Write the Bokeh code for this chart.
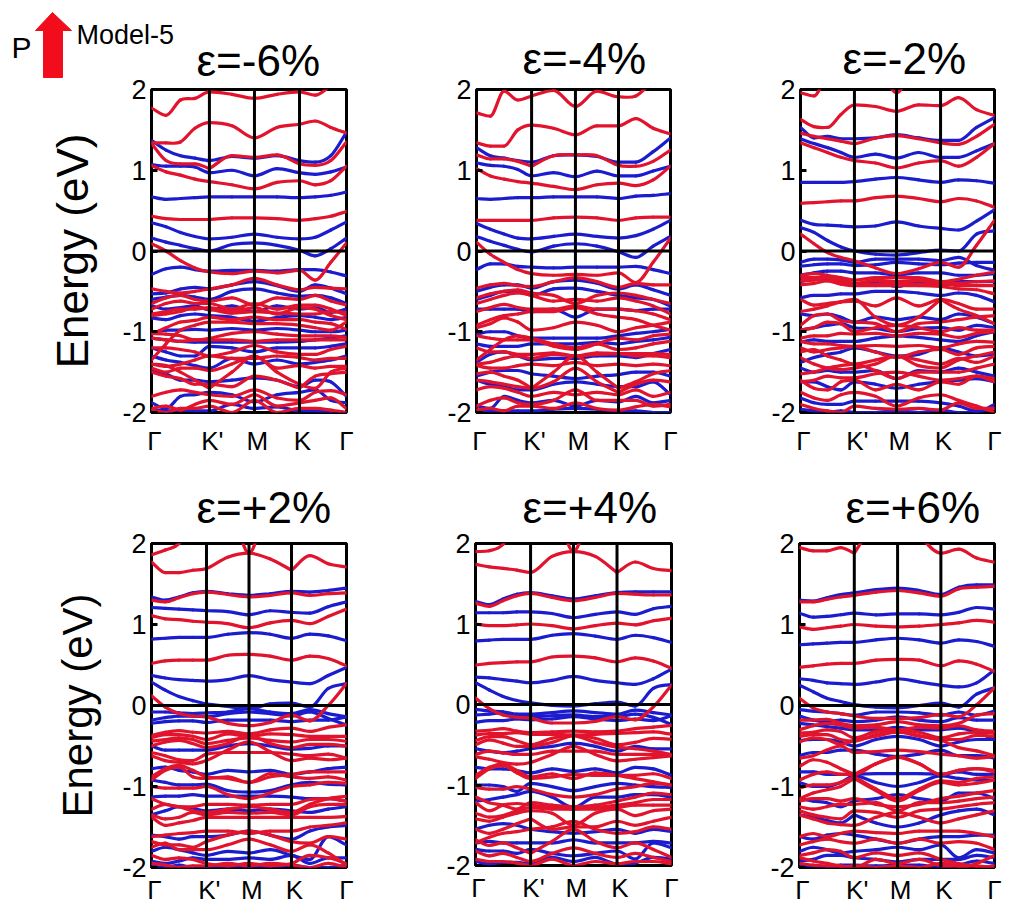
from bokeh.embed import file_html
from bokeh.resources import INLINE
from bokeh.plotting import figure
from bokeh.layouts import column, row
from bokeh.models import Range1d, FixedTicker, Span, ColumnDataSource
from bokeh.core.properties import value

FONT = "Liberation Sans"
RED = "#e2142d"
BLUE = "#1c1ccf"
ARROW_RED = "#f10d1c"
TICK_LABELS = ["Γ", "K'", "M", "K", "Γ"]
Y_TICKS = [-2, -1, 0, 1, 2]
TITLES = ["ε=-6%", "ε=-4%", "ε=-2%", "ε=+2%", "ε=+4%", "ε=+6%"]

# k-path position of Γ, K', M, K, Γ in each panel
K1 = [0, 0.297, 0.528, 0.759, 1]
K2 = [0, 0.284, 0.510, 0.732, 1]
K3 = [0, 0.278, 0.495, 0.722, 1]
K4 = [0, 0.282, 0.500, 0.718, 1]
K5 = [0, 0.281, 0.500, 0.722, 1]
K6 = [0, 0.281, 0.503, 0.725, 1]

# Each band: energy (eV) at 12 k-points: Γ, 3 between, K', 1 between, M, 1 between, K, 2 between, Γ
P1_RED = [
 [1.77,1.68,1.87,1.89,1.97,1.94,1.89,1.94,1.97,1.93,2.05,2.2],
 [1.34,1.34,1.35,1.52,1.59,1.55,1.40,1.53,1.57,1.61,1.53,1.46],
 [1.33,1.12,1.08,1.08,1.02,1.18,1.16,1.19,1.08,1.06,1.12,1.35],
 [1.06,.98,.94,.89,.86,.82,.77,.85,.87,.82,.87,1.05],
 [.43,.40,.39,.39,.39,.41,.41,.40,.38,.40,.43,.49],
 [.09,0,-.12,-.21,-.26,-.28,-.25,-.27,-.24,-.36,-.14,.10],
 [-.47,-.50,-.52,-.50,-.47,-.42,-.34,-.42,-.48,-.45,-.46,-.47],
 [-.65,-.58,-.55,-.60,-.62,-.58,-.67,-.58,-.60,-.55,-.62,-.67],
 [-.72,-.65,-.62,-.65,-.65,-.72,-.65,-.72,-.67,-.67,-.72,-.80],
 [-.80,-.78,-.75,-.70,-.72,-.77,-.75,-.77,-.78,-.78,-.75,-.76],
 [-.78,-.75,-.72,-.72,-.70,-.75,-.70,-.78,-.70,-.72,-.80,-.85],
 [-1.03,-.95,-.88,-.86,-.82,-.85,-.82,-.85,-.85,-.88,-.90,-.97],
 [-1.02,-1.03,-1.05,-1.10,-1.08,-1.02,-1.00,-1.03,-1.05,-1.05,-1.05,-1.07],
 [-1.08,-1.10,-1.12,-1.10,-1.10,-1.10,-1.12,-1.10,-1.10,-1.10,-1.10,-1.10],
 [-1.35,-1.15,-.98,-.92,-.88,-.88,-.90,-.90,-.92,-.95,-.98,-.88],
 [-1.20,-1.20,-1.22,-1.25,-1.30,-1.25,-1.17,-1.25,-1.28,-1.28,-1.22,-1.18],
 [-1.40,-1.43,-1.40,-1.35,-1.30,-1.33,-1.33,-1.30,-1.32,-1.35,-1.33,-1.33],
 [-1.45,-1.50,-1.45,-1.45,-1.48,-1.40,-1.30,-1.45,-1.42,-1.45,-1.43,-1.43],
 [-1.40,-1.42,-1.50,-1.60,-1.70,-1.50,-1.30,-1.50,-1.65,-1.70,-1.50,-1.45],
 [-1.50,-1.55,-1.58,-1.65,-1.65,-1.68,-1.55,-1.60,-1.70,-1.55,-1.52,-1.50],
 [-1.80,-1.75,-1.72,-1.75,-1.78,-1.80,-1.72,-1.82,-1.85,-1.75,-1.73,-1.78],
 [-1.95,-1.92,-1.97,-1.90,-1.85,-1.90,-1.78,-1.92,-1.88,-1.85,-1.82,-1.95],
 [-1.97,-2.00,-1.95,-1.95,-1.92,-2.00,-1.85,-2.00,-1.95,-1.95,-1.97,-2.00],
]
P1_BLUE = [
 [1.37,1.25,1.18,1.15,1.12,1.17,1.15,1.18,1.12,1.10,1.18,1.47],
 [1.07,1.05,1.05,1.04,.97,1.00,.93,1.02,.97,.95,.98,1.04],
 [.67,.64,.65,.66,.67,.67,.67,.67,.66,.67,.69,.73],
 [.35,.30,.23,.18,.15,.17,.21,.17,.15,.17,.26,.36],
 [.16,.11,.07,.03,0,.08,.10,.07,.01,-.06,.03,.16],
 [-.29,-.22,-.20,-.23,-.25,-.24,-.24,-.25,-.23,-.23,-.26,-.31],
 [-.53,-.52,-.47,-.45,-.47,-.42,-.38,-.43,-.50,-.42,-.46,-.53],
 [-.60,-.57,-.55,-.57,-.60,-.50,-.47,-.52,-.56,-.55,-.58,-.65],
 [-.68,-.72,-.70,-.68,-.73,-.68,-.75,-.68,-.72,-.70,-.76,-.72],
 [-.83,-.85,-.80,-.78,-.80,-.82,-.87,-.82,-.80,-.82,-.85,-.82],
 [-1.02,-.98,-.98,-.97,-.98,-.96,-.98,-.96,-.98,-1.00,-1.00,-.98],
 [-1.08,-1.10,-1.12,-1.13,-1.13,-1.13,-1.13,-1.13,-1.12,-1.10,-1.08,-1.05],
 [-1.20,-1.25,-1.30,-1.30,-1.18,-1.20,-1.25,-1.20,-1.20,-1.20,-1.18,-1.15],
 [-1.30,-1.35,-1.38,-1.42,-1.45,-1.33,-1.40,-1.35,-1.40,-1.38,-1.35,-1.30],
 [-1.48,-1.52,-1.60,-1.60,-1.62,-1.60,-1.57,-1.60,-1.68,-1.60,-1.62,-1.80],
 [-1.88,-1.95,-1.80,-1.78,-1.75,-1.78,-1.87,-1.78,-1.75,-1.72,-1.85,-1.88],
 [-1.97,-1.98,-1.97,-1.98,-1.98,-1.90,-1.95,-1.93,-1.98,-1.98,-2.00,-2.00],
]

P2_RED = [
 [1.71,1.67,1.98,1.87,1.92,1.99,1.79,1.98,1.91,1.92,2.1,2.2],
 [1.34,1.30,1.30,1.50,1.56,1.52,1.44,1.55,1.55,1.64,1.52,1.45],
 [1.19,1.14,1.14,1.11,1.05,1.18,1.19,1.18,1.06,1.05,1.11,1.25],
 [1.02,.93,.89,.86,.84,.80,.76,.82,.84,.81,.88,1.05],
 [.38,.38,.38,.38,.38,.41,.42,.41,.38,.41,.42,.42],
 [.11,-.04,-.14,-.23,-.28,-.30,-.29,-.30,-.27,-.39,-.14,.16],
 [-.46,-.42,-.40,-.43,-.44,-.38,-.33,-.38,-.45,-.40,-.42,-.42],
 [-.58,-.53,-.50,-.48,-.52,-.55,-.65,-.55,-.52,-.55,-.60,-.65],
 [-.65,-.60,-.55,-.52,-.55,-.62,-.60,-.62,-.58,-.62,-.68,-.78],
 [-.75,-.70,-.66,-.70,-.72,-.72,-.68,-.72,-.72,-.74,-.78,-.85],
 [-.92,-.85,-.80,-.78,-.75,-.75,-.70,-.78,-.82,-.85,-.92,-.98],
 [-.95,-.90,-.83,-.88,-.98,-.95,-.88,-.92,-1.00,-.95,-.92,-.88],
 [-1.05,-1.08,-1.10,-1.10,-1.10,-1.18,-1.22,-1.15,-1.08,-1.10,-1.05,-1.03],
 [-1.35,-1.22,-1.10,-1.05,-1.08,-1.15,-1.20,-1.15,-1.22,-1.20,-1.15,-1.12],
 [-1.20,-1.25,-1.25,-1.28,-1.28,-1.26,-1.30,-1.26,-1.27,-1.27,-1.27,-1.28],
 [-1.40,-1.38,-1.33,-1.30,-1.33,-1.28,-1.30,-1.28,-1.27,-1.30,-1.30,-1.32],
 [-1.42,-1.45,-1.45,-1.42,-1.40,-1.42,-1.38,-1.42,-1.40,-1.42,-1.40,-1.42],
 [-1.52,-1.50,-1.55,-1.60,-1.70,-1.50,-1.30,-1.50,-1.70,-1.62,-1.52,-1.48],
 [-1.60,-1.62,-1.65,-1.68,-1.70,-1.62,-1.45,-1.62,-1.75,-1.65,-1.60,-1.62],
 [-1.72,-1.68,-1.70,-1.75,-1.80,-1.75,-1.78,-1.75,-1.78,-1.72,-1.80,-1.75],
 [-1.92,-1.85,-1.82,-1.88,-1.90,-1.85,-1.72,-1.85,-1.85,-1.85,-1.92,-1.90],
 [-1.97,-1.95,-1.98,-1.92,-1.92,-1.95,-1.88,-1.95,-1.97,-1.93,-1.90,-1.93],
]
P2_BLUE = [
 [1.28,1.18,1.15,1.12,1.10,1.18,1.19,1.17,1.10,1.10,1.23,1.40],
 [1.09,1.06,1.05,1.01,.93,.97,.92,.99,.93,.93,.99,1.05],
 [.65,.64,.65,.66,.66,.67,.67,.67,.65,.68,.69,.71],
 [.34,.27,.21,.16,.15,.18,.21,.18,.16,.19,.27,.38],
 [.18,.12,.07,.02,-.01,.06,.09,.06,-.01,-.08,.06,.18],
 [-.23,-.16,-.16,-.19,-.20,-.21,-.20,-.20,-.20,-.19,-.23,-.28],
 [-.50,-.45,-.42,-.42,-.46,-.38,-.36,-.40,-.47,-.42,-.48,-.55],
 [-.60,-.55,-.50,-.50,-.55,-.47,-.46,-.50,-.55,-.58,-.60,-.68],
 [-.72,-.72,-.72,-.72,-.75,-.72,-.82,-.72,-.72,-.74,-.72,-.72],
 [-1.03,-1.00,-1.00,-1.05,-1.08,-1.08,-1.08,-1.08,-1.05,-1.02,-1.00,-.97],
 [-1.15,-1.18,-1.18,-1.18,-1.15,-1.15,-1.15,-1.13,-1.15,-1.12,-1.10,-1.07],
 [-1.38,-1.28,-1.25,-1.30,-1.35,-1.33,-1.33,-1.30,-1.30,-1.32,-1.27,-1.22],
 [-1.55,-1.50,-1.48,-1.48,-1.52,-1.55,-1.58,-1.55,-1.53,-1.50,-1.50,-1.55],
 [-1.60,-1.65,-1.68,-1.72,-1.72,-1.65,-1.62,-1.65,-1.68,-1.68,-1.62,-1.78],
 [-1.92,-1.95,-1.80,-1.85,-1.88,-1.85,-1.92,-1.85,-1.87,-1.80,-1.88,-1.85],
 [-1.97,-1.98,-1.98,-1.98,-1.98,-1.96,-1.95,-1.96,-1.98,-1.98,-2.00,-2.00],
]

P3_RED = [
 [1.96,1.92,2.2,2.3,2.3,2.3,1.96,2.3,2.3,2.3,2.3,2.3],
 [1.63,1.54,1.53,1.69,1.81,1.79,1.73,1.81,1.80,1.90,1.75,1.68],
 [1.46,1.42,1.39,1.36,1.33,1.40,1.43,1.39,1.34,1.32,1.42,1.57],
 [1.34,1.28,1.22,1.16,1.12,1.09,1.03,1.09,1.12,1.05,1.16,1.33],
 [.59,.60,.61,.62,.62,.66,.68,.65,.61,.65,.62,.54],
 [.21,.09,-.02,-.08,-.12,-.21,-.28,-.22,-.14,-.20,.07,.38],
 [-.30,-.28,-.30,-.33,-.36,-.33,-.33,-.33,-.38,-.35,-.30,-.26],
 [-.33,-.33,-.33,-.38,-.40,-.36,-.38,-.36,-.41,-.40,-.38,-.37],
 [-.37,-.36,-.33,-.36,-.40,-.41,-.40,-.41,-.40,-.43,-.43,-.43],
 [-.42,-.40,-.37,-.41,-.43,-.43,-.43,-.43,-.44,-.47,-.48,-.53],
 [-.60,-.67,-.65,-.63,-.62,-.68,-.58,-.68,-.60,-.65,-.72,-.72],
 [-.92,-.80,-.78,-.86,-.88,-.90,-1.0,-.90,-.88,-.85,-.82,-.80],
 [-.75,-.72,-.68,-.63,-.60,-.82,-.92,-.82,-.60,-.72,-.80,-.90],
 [-.98,-.95,-.88,-.90,-1.00,-.95,-.92,-.95,-1.00,-.95,-.98,-.98],
 [-1.08,-1.05,-1.05,-1.02,-1.03,-1.02,-1.05,-1.02,-1.03,-1.07,-1.02,-1.00],
 [-1.12,-1.15,-1.15,-1.17,-1.18,-1.17,-1.18,-1.17,-1.20,-1.15,-1.12,-1.13],
 [-1.20,-1.25,-1.22,-1.20,-1.18,-1.25,-1.32,-1.25,-1.22,-1.28,-1.20,-1.18],
 [-1.25,-1.22,-1.30,-1.35,-1.40,-1.35,-1.30,-1.35,-1.40,-1.33,-1.38,-1.30],
 [-1.32,-1.40,-1.45,-1.47,-1.45,-1.40,-1.30,-1.42,-1.45,-1.35,-1.30,-1.25],
 [-1.52,-1.50,-1.45,-1.42,-1.40,-1.48,-1.58,-1.50,-1.50,-1.50,-1.45,-1.40],
 [-1.62,-1.60,-1.55,-1.57,-1.57,-1.52,-1.50,-1.55,-1.60,-1.58,-1.55,-1.58],
 [-1.60,-1.70,-1.72,-1.62,-1.60,-1.72,-1.65,-1.72,-1.62,-1.65,-1.55,-1.62],
 [-1.75,-1.82,-1.85,-1.78,-1.75,-1.80,-1.92,-1.82,-1.78,-1.85,-1.92,-2.00],
 [-1.90,-1.95,-1.98,-2.00,-1.92,-1.95,-1.96,-1.95,-1.97,-1.88,-1.95,-1.95],
]
P3_BLUE = [
 [1.53,1.40,1.42,1.39,1.39,1.40,1.44,1.40,1.37,1.37,1.53,1.65],
 [1.39,1.33,1.28,1.22,1.16,1.20,1.15,1.22,1.16,1.16,1.24,1.33],
 [.85,.85,.85,.85,.86,.89,.91,.88,.85,.88,.87,.84],
 [.38,.33,.32,.31,.30,.31,.36,.31,.28,.26,.37,.51],
 [.29,.23,.13,.05,0,-.04,-.05,-.02,.01,0,.21,.25],
 [-.14,-.10,-.10,-.11,-.14,-.10,-.10,-.10,-.12,-.08,-.18,-.24],
 [-.19,-.17,-.16,-.16,-.18,-.17,-.14,-.16,-.17,-.15,-.14,-.14],
 [-.30,-.27,-.25,-.25,-.27,-.27,-.30,-.27,-.27,-.30,-.30,-.28],
 [-.38,-.35,-.35,-.34,-.42,-.38,-.44,-.38,-.43,-.38,-.38,-.38],
 [-.58,-.55,-.55,-.53,-.53,-.50,-.50,-.52,-.55,-.52,-.55,-.63],
 [-.78,-.80,-.78,-.82,-.88,-.82,-.85,-.82,-.85,-.78,-.82,-.90],
 [-.98,-.95,-.92,-.90,-.95,-.96,-1.00,-.96,-.95,-.98,-.92,-.95],
 [-1.13,-1.10,-1.12,-1.12,-1.12,-1.08,-1.05,-1.07,-1.10,-1.12,-1.05,-1.00],
 [-1.38,-1.32,-1.28,-1.25,-1.20,-1.25,-1.30,-1.28,-1.20,-1.25,-1.30,-1.28],
 [-1.45,-1.50,-1.48,-1.50,-1.50,-1.48,-1.58,-1.48,-1.50,-1.45,-1.50,-1.55],
 [-1.62,-1.62,-1.68,-1.72,-1.62,-1.65,-1.70,-1.65,-1.62,-1.60,-1.58,-1.62],
 [-1.82,-1.88,-1.90,-1.90,-1.86,-1.86,-1.86,-1.86,-1.88,-1.92,-1.98,-1.95],
 [-1.96,-1.98,-2.00,-1.98,-2.00,-2.00,-1.98,-2.00,-1.97,-2.00,-2.00,-1.90],
]

P4_RED = [
 [1.86,1.92,2.0,2.3,2.5,2.5,1.88,2.5,2.5,2.5,2.5,2.5],
 [1.77,1.64,1.64,1.67,1.69,1.83,1.88,1.81,1.67,1.85,1.75,1.71],
 [1.30,1.28,1.33,1.38,1.40,1.37,1.34,1.36,1.39,1.36,1.38,1.39],
 [1.11,1.07,1.06,1.04,1.03,1.01,.96,1.02,1.05,1.01,1.10,1.19],
 [.52,.55,.56,.56,.56,.62,.63,.61,.56,.61,.58,.49],
 [.12,-.02,-.10,-.13,-.14,-.22,-.25,-.21,-.12,-.19,0,.27],
 [-.37,-.33,-.31,-.33,-.34,-.32,-.35,-.30,-.28,-.32,-.27,-.24],
 [-.40,-.36,-.36,-.38,-.42,-.35,-.38,-.35,-.36,-.38,-.38,-.38],
 [-.44,-.42,-.40,-.42,-.47,-.43,-.40,-.43,-.45,-.42,-.42,-.44],
 [-.50,-.45,-.43,-.47,-.52,-.47,-.37,-.47,-.52,-.48,-.48,-.50],
 [-.58,-.62,-.67,-.68,-.60,-.58,-.58,-.58,-.60,-.62,-.60,-.65],
 [-.62,-.68,-.70,-.72,-.68,-.55,-.45,-.57,-.68,-.65,-.67,-.65],
 [-.88,-.78,-.74,-.80,-.88,-.90,-.95,-.88,-.85,-.82,-.82,-.82],
 [-.92,-.80,-.76,-.88,-.90,-.88,-.95,-.84,-.88,-.90,-.88,-.92],
 [-1.00,-1.02,-1.02,-1.02,-1.00,-1.10,-1.15,-1.08,-1.00,-.98,-.95,-.96],
 [-1.15,-1.22,-1.25,-1.30,-1.32,-1.28,-1.25,-1.28,-1.32,-1.22,-1.15,-1.12],
 [-1.28,-1.22,-1.25,-1.25,-1.22,-1.22,-1.23,-1.22,-1.22,-1.16,-1.15,-1.18],
 [-1.35,-1.40,-1.38,-1.32,-1.35,-1.32,-1.33,-1.32,-1.35,-1.25,-1.22,-1.22],
 [-1.38,-1.48,-1.45,-1.42,-1.38,-1.38,-1.38,-1.38,-1.38,-1.38,-1.38,-1.37],
 [-1.62,-1.60,-1.58,-1.57,-1.55,-1.55,-1.58,-1.55,-1.55,-1.50,-1.48,-1.45],
 [-1.68,-1.72,-1.72,-1.75,-1.68,-1.60,-1.55,-1.60,-1.68,-1.70,-1.62,-1.65],
 [-1.75,-1.70,-1.78,-1.78,-1.78,-1.72,-1.65,-1.72,-1.80,-1.72,-1.82,-1.97],
 [-1.85,-1.90,-1.88,-1.90,-1.95,-1.98,-1.95,-1.98,-1.95,-1.85,-1.88,-1.95],
 [-1.95,-1.97,-2.00,-1.98,-1.98,-1.95,-1.98,-1.95,-1.97,-2.00,-1.95,-2.00],
]
P4_BLUE = [
 [1.34,1.30,1.34,1.39,1.41,1.38,1.36,1.38,1.41,1.40,1.42,1.45],
 [1.21,1.20,1.19,1.18,1.17,1.16,1.12,1.17,1.15,1.14,1.22,1.28],
 [.82,.83,.84,.84,.84,.88,.90,.88,.83,.88,.86,.80],
 [.37,.34,.32,.31,.30,.32,.37,.32,.29,.27,.37,.47],
 [.29,.19,.11,.06,.02,-.01,-.04,.02,.03,-.02,.21,.27],
 [-.08,-.08,-.09,-.10,-.09,-.08,-.04,-.08,-.10,-.05,-.10,-.14],
 [-.18,-.15,-.13,-.13,-.14,-.10,-.08,-.10,-.13,-.08,-.16,-.24],
 [-.22,-.20,-.19,-.19,-.21,-.18,-.18,-.18,-.20,-.18,-.18,-.14],
 [-.50,-.55,-.55,-.55,-.55,-.50,-.47,-.50,-.54,-.53,-.50,-.50],
 [-.78,-.76,-.80,-.82,-.85,-.80,-.82,-.80,-.85,-.82,-.78,-.76],
 [-.92,-.95,-.98,-.98,-.97,-1.05,-1.07,-1.05,-.98,-.95,-.97,-.98],
 [-1.13,-1.12,-1.12,-1.10,-1.12,-1.12,-1.12,-1.12,-1.13,-1.15,-1.15,-1.18],
 [-1.35,-1.30,-1.25,-1.27,-1.30,-1.28,-1.30,-1.28,-1.30,-1.32,-1.28,-1.25],
 [-1.60,-1.62,-1.65,-1.62,-1.62,-1.60,-1.55,-1.60,-1.65,-1.55,-1.50,-1.48],
 [-1.80,-1.75,-1.78,-1.82,-1.85,-1.80,-1.82,-1.78,-1.85,-1.90,-1.62,-1.72],
 [-1.92,-1.95,-1.92,-1.88,-1.90,-1.90,-1.88,-1.90,-1.85,-1.95,-1.88,-1.88],
 [-1.98,-2.00,-1.97,-2.00,-2.00,-2.00,-2.00,-2.00,-1.97,-2.00,-2.00,-1.97],
]

P5_RED = [
 [1.90,1.91,1.99,2.3,2.5,2.5,1.90,2.5,2.5,2.5,2.5,2.5],
 [1.74,1.71,1.69,1.67,1.64,1.84,1.90,1.84,1.64,1.77,1.69,1.66],
 [1.26,1.22,1.29,1.35,1.38,1.33,1.29,1.33,1.38,1.37,1.36,1.36],
 [1.00,.98,.98,.99,1.00,.98,.94,.98,1.01,.99,1.04,1.07],
 [.49,.51,.52,.53,.53,.59,.60,.58,.53,.58,.54,.45],
 [.08,-.05,-.13,-.16,-.17,-.23,-.23,-.21,-.15,-.19,-.03,.24],
 [-.33,-.32,-.30,-.33,-.35,-.34,-.33,-.34,-.33,-.30,-.28,-.26],
 [-.38,-.36,-.36,-.35,-.37,-.37,-.38,-.37,-.36,-.35,-.34,-.37],
 [-.45,-.40,-.40,-.45,-.50,-.42,-.38,-.42,-.50,-.47,-.42,-.43],
 [-.50,-.44,-.48,-.52,-.52,-.47,-.39,-.47,-.53,-.55,-.58,-.62],
 [-.62,-.58,-.60,-.62,-.62,-.58,-.58,-.58,-.62,-.62,-.62,-.63],
 [-.65,-.68,-.72,-.74,-.72,-.62,-.52,-.62,-.70,-.68,-.66,-.64],
 [-.88,-.78,-.74,-.82,-.90,-.86,-.92,-.85,-.88,-.92,-.96,-1.00],
 [-.92,-.80,-.76,-.85,-.92,-.90,-.87,-.88,-.88,-.88,-.86,-.92],
 [-1.03,-1.05,-1.05,-1.02,-1.05,-1.12,-1.15,-1.12,-1.05,-1.02,-.98,-1.00],
 [-1.15,-1.22,-1.25,-1.30,-1.22,-1.25,-1.27,-1.25,-1.20,-1.15,-1.10,-1.12],
 [-1.22,-1.32,-1.25,-1.23,-1.25,-1.28,-1.30,-1.28,-1.25,-1.22,-1.18,-1.18],
 [-1.35,-1.40,-1.38,-1.32,-1.28,-1.30,-1.30,-1.30,-1.28,-1.25,-1.25,-1.25],
 [-1.42,-1.45,-1.40,-1.35,-1.32,-1.35,-1.50,-1.35,-1.30,-1.38,-1.32,-1.30],
 [-1.55,-1.60,-1.55,-1.48,-1.42,-1.55,-1.52,-1.52,-1.45,-1.50,-1.45,-1.40],
 [-1.72,-1.65,-1.60,-1.58,-1.55,-1.52,-1.45,-1.55,-1.60,-1.58,-1.52,-1.55],
 [-1.68,-1.75,-1.72,-1.78,-1.85,-1.70,-1.55,-1.70,-1.78,-1.72,-1.80,-1.90],
 [-1.82,-1.88,-1.85,-1.90,-1.95,-1.85,-1.78,-1.85,-1.90,-1.85,-1.90,-1.95],
 [-1.92,-1.95,-1.95,-1.97,-2.00,-1.92,-2.00,-1.95,-1.98,-1.95,-1.95,-1.98],
]
P5_BLUE = [
 [1.28,1.24,1.31,1.37,1.39,1.35,1.31,1.35,1.39,1.40,1.40,1.40],
 [1.14,1.14,1.14,1.15,1.15,1.13,1.08,1.12,1.15,1.12,1.19,1.22],
 [.79,.80,.81,.81,.81,.86,.88,.85,.81,.86,.83,.77],
 [.34,.33,.31,.29,.27,.30,.35,.30,.27,.25,.32,.44],
 [.27,.18,.10,.05,.02,-.01,-.02,.01,.03,-.02,.20,.25],
 [-.06,-.08,-.09,-.12,-.12,-.10,-.08,-.10,-.12,-.07,-.10,-.13],
 [-.13,-.12,-.10,-.15,-.15,-.14,-.13,-.15,-.15,-.12,-.16,-.25],
 [-.22,-.20,-.20,-.18,-.19,-.18,-.15,-.18,-.20,-.18,-.20,-.14],
 [-.55,-.58,-.60,-.58,-.55,-.52,-.48,-.52,-.58,-.52,-.55,-.55],
 [-.78,-.80,-.80,-.82,-.85,-.80,-.83,-.80,-.85,-.78,-.80,-.88],
 [-1.00,-1.00,-1.02,-1.08,-.98,-1.02,-1.07,-1.02,-.98,-1.00,-1.02,-1.03],
 [-1.20,-1.18,-1.15,-1.12,-1.08,-1.15,-1.28,-1.15,-1.15,-1.12,-1.12,-1.15],
 [-1.55,-1.50,-1.48,-1.50,-1.55,-1.58,-1.60,-1.58,-1.55,-1.60,-1.55,-1.58],
 [-1.72,-1.70,-1.72,-1.72,-1.72,-1.72,-1.68,-1.72,-1.72,-1.72,-1.70,-1.72],
 [-1.80,-1.82,-1.82,-1.85,-1.80,-1.85,-1.88,-1.85,-1.82,-1.92,-1.72,-1.78],
 [-1.95,-1.98,-1.96,-1.96,-1.98,-1.90,-1.95,-1.90,-1.98,-1.97,-1.90,-1.92],
]

P6_RED = [
 [1.95,1.91,1.91,1.95,1.88,2.28,2.4,2.1,1.88,1.93,1.82,1.77],
 [1.28,1.28,1.31,1.34,1.36,1.40,1.42,1.39,1.35,1.44,1.46,1.47],
 [.97,.94,.96,.98,1.00,.98,.97,.98,1.00,1.02,1.05,1.03],
 [.47,.49,.51,.52,.52,.56,.57,.56,.49,.55,.51,.42],
 [.09,-.03,-.08,-.10,-.13,-.16,-.16,-.15,-.11,-.14,.01,.22],
 [-.18,-.18,-.17,-.22,-.25,-.24,-.20,-.24,-.25,-.22,-.12,-.10],
 [-.30,-.25,-.22,-.24,-.28,-.27,-.30,-.27,-.28,-.25,-.30,-.32],
 [-.34,-.33,-.30,-.32,-.40,-.32,-.30,-.33,-.40,-.35,-.33,-.34],
 [-.38,-.36,-.36,-.42,-.44,-.36,-.32,-.37,-.42,-.42,-.37,-.38],
 [-.45,-.40,-.42,-.48,-.43,-.38,-.33,-.38,-.43,-.52,-.56,-.62],
 [-.65,-.62,-.55,-.50,-.58,-.57,-.55,-.57,-.60,-.62,-.65,-.63],
 [-.75,-.67,-.70,-.78,-.85,-.72,-.63,-.72,-.85,-.80,-.78,-.80],
 [-.92,-.85,-.82,-.85,-.85,-.72,-.64,-.72,-.85,-.80,-.78,-.82],
 [-1.02,-.98,-.98,-.95,-.88,-1.03,-1.15,-1.03,-.93,-.95,-.90,-.88],
 [-1.15,-1.08,-1.04,-1.00,-.90,-1.05,-1.18,-1.05,-.95,-.98,-.96,-.92],
 [-1.18,-1.15,-1.15,-1.18,-1.15,-1.22,-1.25,-1.22,-1.15,-1.12,-1.08,-1.05],
 [-1.25,-1.28,-1.25,-1.22,-1.22,-1.20,-1.30,-1.20,-1.20,-1.18,-1.15,-1.13],
 [-1.30,-1.35,-1.38,-1.40,-1.30,-1.32,-1.38,-1.30,-1.28,-1.25,-1.22,-1.20],
 [-1.35,-1.40,-1.45,-1.47,-1.48,-1.38,-1.32,-1.38,-1.45,-1.40,-1.35,-1.30],
 [-1.62,-1.58,-1.62,-1.58,-1.55,-1.57,-1.58,-1.55,-1.55,-1.55,-1.58,-1.62],
 [-1.72,-1.68,-1.65,-1.68,-1.70,-1.65,-1.70,-1.65,-1.70,-1.68,-1.70,-1.78],
 [-1.85,-1.82,-1.78,-1.80,-1.88,-1.82,-1.85,-1.82,-1.90,-1.95,-1.98,-2.00],
 [-1.88,-1.92,-1.95,-1.98,-2.00,-1.90,-1.95,-1.90,-1.98,-2.00,-1.95,-1.85],
 [-1.95,-1.97,-1.98,-2.00,-1.98,-2.00,-1.98,-2.00,-1.95,-1.98,-2.00,-1.98],
]
P6_BLUE = [
 [1.30,1.29,1.33,1.37,1.39,1.43,1.45,1.42,1.37,1.46,1.49,1.49],
 [1.14,1.09,1.10,1.12,1.14,1.12,1.13,1.13,1.12,1.15,1.21,1.19],
 [.75,.76,.77,.78,.78,.81,.83,.81,.77,.81,.79,.73],
 [.33,.31,.28,.27,.26,.29,.33,.29,.25,.23,.28,.44],
 [.25,.17,.09,.05,.01,-.02,-.03,0,.03,-.02,.14,.22],
 [-.05,-.07,-.08,-.10,-.12,-.08,-.08,-.09,-.12,-.08,-.12,-.07],
 [-.13,-.18,-.20,-.18,-.20,-.18,-.14,-.18,-.20,-.15,-.18,-.18],
 [-.22,-.24,-.26,-.28,-.30,-.30,-.27,-.30,-.30,-.28,-.33,-.42],
 [-.43,-.42,-.42,-.45,-.50,-.42,-.38,-.42,-.50,-.45,-.42,-.42],
 [-.62,-.58,-.58,-.55,-.55,-.60,-.63,-.60,-.55,-.62,-.62,-.65],
 [-.82,-.82,-.85,-.85,-.85,-.84,-.84,-.84,-.85,-.82,-.85,-.85],
 [-.95,-1.00,-1.00,-.95,-.87,-.95,-1.00,-.95,-.87,-.90,-.92,-.92],
 [-1.15,-1.18,-1.20,-1.25,-1.18,-1.15,-1.10,-1.15,-1.18,-1.08,-1.08,-1.15],
 [-1.35,-1.38,-1.42,-1.45,-1.35,-1.45,-1.50,-1.45,-1.35,-1.30,-1.28,-1.35],
 [-1.62,-1.65,-1.60,-1.58,-1.60,-1.65,-1.70,-1.65,-1.62,-1.62,-1.60,-1.60],
 [-1.80,-1.75,-1.78,-1.82,-1.80,-1.78,-1.75,-1.78,-1.72,-1.88,-1.78,-1.82],
 [-1.92,-1.90,-1.85,-1.85,-1.88,-1.90,-1.93,-1.90,-1.90,-1.90,-1.85,-1.88],
 [-1.97,-1.98,-2.00,-1.97,-1.97,-1.98,-1.97,-1.97,-2.00,-1.97,-1.92,-1.95],
]

PANELS = [(K1, P1_RED, P1_BLUE), (K2, P2_RED, P2_BLUE), (K3, P3_RED, P3_BLUE),
          (K4, P4_RED, P4_BLUE), (K5, P5_RED, P5_BLUE), (K6, P6_RED, P6_BLUE)]

# figure layout: (left, right, top, bottom borders), frame size
BORDERS = [(151, 54, 20, 46), (76, 55, 89, 46), (75, 8, 89, 46),
           (151, 54, 85, 41), (75, 54, 85, 41), (74, 9, 85, 41)]
FRAMES = [(195, 323), (194, 323), (194, 323), (195, 324), (196, 322), (195, 324)]
HEADER_W, HEADER_H = 400, 85
HEADER_OVERLAP = 16
TITLE_SIZE = 44
TITLE_OFFSET = [45, 46, 42, 45, 47, 46]
TITLE_STANDOFF = [14, 14, 14, 24, 24, 24]
X_STANDOFF = [13, 13, 13, 7, 7, 7]
LABEL_SHIFT = 0.015
YLABEL = {0: (44, 22), 3: (42, 18)}


def k_nodes(t):
    a, b, c, d, e = t
    return [a, a + (b-a)/4, a + (b-a)/2, a + 3*(b-a)/4, b, (b+c)/2, c, (c+d)/2, d,
            d + (e-d)/3, d + 2*(e-d)/3, e]


def smooth_pieces(xs, bands):
    """Curve pieces through the read values: each piece runs between two neighbouring k-points."""
    cols = {k: [] for k in ("x0", "y0", "x1", "y1", "cx0", "cy0", "cx1", "cy1")}
    n = len(xs)
    for ys in bands:
        left, right = [0.0]*n, [0.0]*n
        for j in range(n):
            sl = (ys[j]-ys[j-1])/(xs[j]-xs[j-1]) if j > 0 else None
            sr = (ys[j+1]-ys[j])/(xs[j+1]-xs[j]) if j < n-1 else None
            if sl is None:
                left[j] = right[j] = sr
            elif sr is None:
                left[j] = right[j] = sl
            elif sl*sr <= 0:
                if j in (4, 8) and min(abs(sl), abs(sr)) > 0.8:   # cusp at K', K
                    left[j], right[j] = sl, sr
            else:
                left[j] = right[j] = (ys[j+1]-ys[j-1])/(xs[j+1]-xs[j-1])
        for j in range(n-1):
            d = (xs[j+1]-xs[j])/3
            cols["x0"].append(xs[j]); cols["y0"].append(ys[j])
            cols["x1"].append(xs[j+1]); cols["y1"].append(ys[j+1])
            cols["cx0"].append(xs[j]+d); cols["cy0"].append(ys[j]+right[j]*d)
            cols["cx1"].append(xs[j+1]-d); cols["cy1"].append(ys[j+1]-left[j+1]*d)
    return ColumnDataSource(cols)


def panel(i):
    ticks, reds, blues = PANELS[i]
    left, right, top, bottom = BORDERS[i]
    fw, fh = FRAMES[i]
    p = figure(frame_width=fw, frame_height=fh, output_backend="svg", toolbar_location=None,
               x_range=Range1d(0, 1), y_range=Range1d(-2, 2),
               min_border_left=left, min_border_right=right, min_border_top=top, min_border_bottom=bottom,
               background_fill_color="white", border_fill_color="white")
    p.grid.visible = False
    p.outline_line_color = "black"
    p.outline_line_width = 3
    xs = k_nodes(ticks)
    for bands, colour in ((blues, BLUE), (reds, RED)):
        p.bezier("x0", "y0", "x1", "y1", "cx0", "cy0", "cx1", "cy1", source=smooth_pieces(xs, bands),
                 line_color=colour, line_width=3.2, line_cap="round")
    for t in ticks[1:4]:
        p.add_layout(Span(location=t, dimension="height", line_color="black", line_width=3))
    p.add_layout(Span(location=0, dimension="width", line_color="black", line_width=3))

    label_at = [t + LABEL_SHIFT for t in ticks[:4]] + [ticks[4]]
    p.xaxis.ticker = FixedTicker(ticks=label_at)
    p.xaxis.major_label_overrides = {t: lab for t, lab in zip(label_at, TICK_LABELS)}
    p.xaxis.major_tick_line_color = None
    p.xaxis.major_tick_in = 0
    p.xaxis.major_tick_out = 0
    p.xaxis.axis_line_color = None
    p.xaxis.major_label_standoff = X_STANDOFF[i]
    p.xaxis.major_label_text_font = FONT
    p.xaxis.major_label_text_font_size = "26px"
    p.xaxis.major_label_text_color = "black"

    p.yaxis.ticker = FixedTicker(ticks=Y_TICKS)
    p.yaxis.axis_line_color = None
    p.yaxis.major_tick_in = 6
    p.yaxis.major_tick_out = 0
    p.yaxis.major_tick_line_width = 3
    p.yaxis.major_tick_line_color = "black"
    p.yaxis.major_label_standoff = 5
    p.yaxis.major_label_text_font = FONT
    p.yaxis.major_label_text_font_size = "27px"
    p.yaxis.major_label_text_color = "black"
    p.yaxis.major_label_overrides = {-2: "-2", -1: "-1"}

    if i in YLABEL:
        size, standoff = YLABEL[i]
        p.yaxis.axis_label = "Energy (eV)"
        p.yaxis.axis_label_text_font = FONT
        p.yaxis.axis_label_text_font_style = "normal"
        p.yaxis.axis_label_text_font_size = f"{size}px"
        p.yaxis.axis_label_text_color = "black"
        p.yaxis.axis_label_standoff = standoff

    if i != 0:   # the first panel's title sits in the header strip above it
        p.title.text = TITLES[i]
        p.title.text_font = FONT
        p.title.text_font_style = "normal"
        p.title.text_font_size = f"{TITLE_SIZE}px"
        p.title.text_color = "black"
        p.title.align = "left"
        p.title.offset = TITLE_OFFSET[i]
        p.title.standoff = TITLE_STANDOFF[i]
    return p


def header():
    """Strip above the first panel: P, the polarisation arrow, the model name and the title."""
    h = figure(width=HEADER_W, height=HEADER_H, output_backend="svg", toolbar_location=None,
               x_range=Range1d(0, HEADER_W), y_range=Range1d(HEADER_H, 0),
               min_border_left=0, min_border_right=0, min_border_top=0, min_border_bottom=0,
               background_fill_color="white", border_fill_color="white", frame_align=False)
    h.grid.visible = False
    h.axis.visible = False
    h.outline_line_color = None
    h.patch([52, 35, 43, 43, 62, 62, 71], [12, 30, 30, 77, 77, 30, 30],
            fill_color=ARROW_RED, line_color=ARROW_RED, line_width=1)
    h.text([11], [47], text=["P"], text_font=value(FONT), text_font_size="30px",
           text_color="black", text_baseline="middle")
    h.text([76], [34], text=["Model-5"], text_font=value(FONT), text_font_size="27px",
           text_color="black", text_baseline="middle")
    h.text([196], [60], text=[TITLES[0]], text_font=value(FONT), text_font_size=f"{TITLE_SIZE}px",
           text_color="black", text_baseline="middle")
    return h


figs = [panel(i) for i in range(6)]
figs[0].frame_align = False
figs[0].border_fill_alpha = 0
figs[0].margin = (-HEADER_OVERLAP, 0, 0, 0)
first_column = column(header(), figs[0], spacing=0)
page = column(row(first_column, figs[1], figs[2], spacing=0), row(*figs[3:], spacing=0), spacing=0)
open("out.html", "w").write(file_html(page, INLINE))
